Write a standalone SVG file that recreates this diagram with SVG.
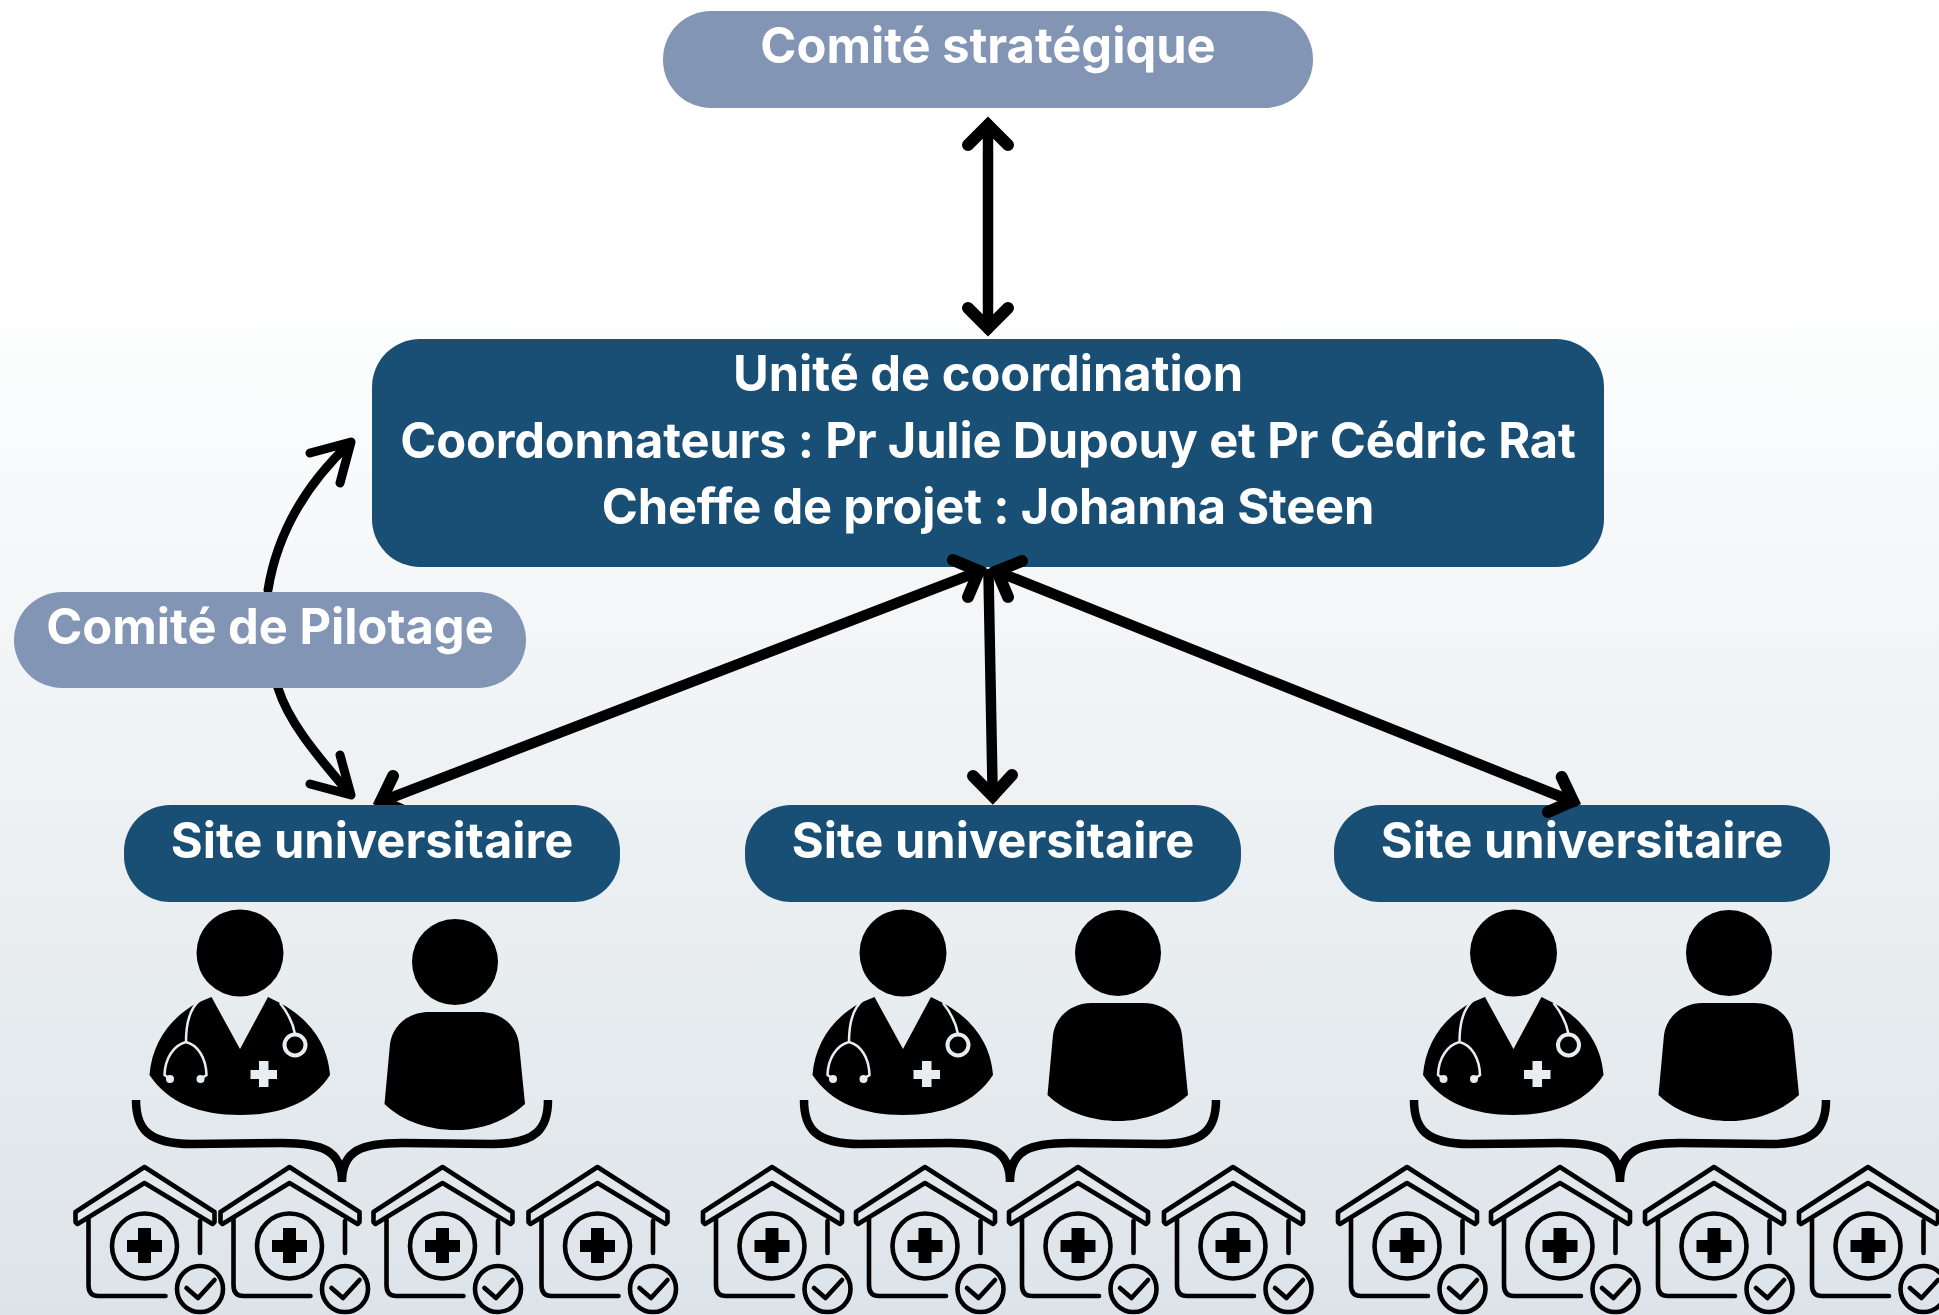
<svg xmlns="http://www.w3.org/2000/svg" width="1939" height="1315" viewBox="0 0 1939 1315">
<style>
text{font-family:"Inter","Liberation Sans",sans-serif;font-weight:700;fill:#fff;text-anchor:middle;font-feature-settings:"calt" 0}
.t{font-size:48.800px}
.n{letter-spacing:-0.17px}
.dark{fill:#194f75}.pale{fill:#8395b5}
.c{fill:none;stroke:#000;stroke-width:10.500;stroke-linecap:round}
.w{fill:none;stroke:#000;stroke-width:12;stroke-linecap:round;stroke-linejoin:miter;stroke-miterlimit:8}
.k{fill:none;stroke:#000;stroke-width:9;stroke-linecap:round;stroke-linejoin:round}
.h{fill:none;stroke:#000;stroke-width:4.600;stroke-linecap:round;stroke-linejoin:round}
.b{fill:none;stroke:#000;stroke-width:8.500}
</style>
<defs>
<linearGradient id="bg" x1="0" y1="0" x2="0" y2="1315" gradientUnits="userSpaceOnUse">
<stop offset="0.2" stop-color="#fff"/><stop offset="1" stop-color="#dde4e9"/>
</linearGradient>
<g id="house">
<path class="h" d="M0,2L-69,47V57L-67,59L0,18L68,59L70,57V47Z"/>
<path class="h" d="M-56,54V120Q-56,131 -46,131H21M55.500,56V88"/>
<circle class="h" cx="0" cy="81" r="32.500"/>
<path d="M-6.500,63H6.500V75H17.500V87H6.500V98H-6.500V87H-17.500V75H-6.500Z"/>
<circle class="h" cx="55.500" cy="124" r="23"/>
<path class="h" d="M42,123L53.500,133L70,115"/>
</g>
<g id="doctor">
<circle cx="0" cy="0" r="43.500"/>
<path d="M-90.500,122C-88,90 -70,65 -43,50L-28.500,44L0,96L28,44L40,50C68,65 88,90 90,122C72,150 40,162 0,162C-40,162 -72,150 -90.500,122Z"/>
<path d="M-40,47C-50,55 -54,72 -54,89C-66,92 -75,105 -75.500,122L-70,126M-54,89C-42,92 -34,105 -33.500,122L-39.500,126M40,50C48,60 53,70 55,81" fill="none" stroke="#e8edf1" stroke-width="2.500"/>
<circle cx="-70" cy="126" r="4" fill="#e8edf1"/><circle cx="-39.500" cy="126" r="4" fill="#e8edf1"/>
<circle cx="55" cy="92" r="10.500" fill="none" stroke="#e8edf1" stroke-width="4"/>
<path d="M19,108H28.500V117H37V126H28.500V134H19V126H10.500V117H19Z" fill="#e8edf1"/>
</g>
<g id="person">
<circle cx="0" cy="0" r="43"/>
<path d="M-26,50H25C48,50 62,65 64,82L70,142C50,160 25,168 0,168C-25,168 -52,160 -70.500,142L-65,82C-63,65 -48,50 -26,50Z"/>
</g>
<path id="brace" class="b" d="M-206,1100C-206,1128 -195,1144 -150,1144L-60,1143C-20,1143 0,1150 0,1182C0,1150 20,1143 60,1143L150,1144C195,1144 206,1128 206,1100"/>
</defs>
<rect id="background" width="1939" height="1315" fill="url(#bg)"/>
<g id="unite-coordination"><rect class="dark" x="372" y="339" width="1232" height="228" rx="48"/>
<text class="t" x="988" y="391">Unité de coordination</text><text class="t n" x="988" y="458">Coordonnateurs : Pr Julie Dupouy et Pr Cédric Rat</text><text class="t n" x="988" y="524">Cheffe de projet : Johanna Steen</text></g>
<g id="site-3"><rect class="dark" x="1334" y="805" width="496" height="97" rx="46"/><text class="t" x="1582" y="858">Site universitaire</text>
<use href="#doctor" x="1513.500" y="953"/><use href="#person" x="1729" y="953"/><use href="#brace" x="1620"/>
<use href="#house" x="1407" y="1165"/><use href="#house" x="1560" y="1165"/><use href="#house" x="1714" y="1165"/><use href="#house" x="1868" y="1165"/></g>
<g id="connectors">
<path class="c" d="M988,124V329"/><path class="w" d="M968,145L988,125L1008,145M968,308L988,328L1008,308"/>
<path class="c" d="M980,571L380,802"/><path class="w" d="M953,560L979,571L968,597M393,776L381,801L408,813"/>
<path class="c" d="M996,571L1574,802"/><path class="w" d="M1022,561L997,571L1008,597M1561.700,777L1573,801L1548,812"/>
<path class="c" d="M988.500,574L992.700,797"/><path class="w" d="M973,776L992.700,796L1012,775"/>
<path class="k" d="M268,590C276,540 300,490 350,443M310,453L351,442L340,483"/>
<path class="k" d="M278,688C288,720 312,750 350,794M310,784L351,795L340,755"/>
</g>
<g id="comite-strategique"><rect class="pale" x="663" y="11" width="650" height="97" rx="48"/><text class="t" x="988" y="63">Comité stratégique</text></g>
<g id="comite-pilotage"><rect class="pale" x="14" y="592" width="512" height="96" rx="48"/><text class="t" x="270" y="644">Comité de Pilotage</text></g>
<g id="site-1"><rect class="dark" x="124" y="805" width="496" height="97" rx="46"/><text class="t" x="372" y="858">Site universitaire</text>
<use href="#doctor" x="240" y="953"/><use href="#person" x="455" y="962"/><use href="#brace" x="342"/>
<use href="#house" x="144.500" y="1165"/><use href="#house" x="289.500" y="1165"/><use href="#house" x="442.500" y="1165"/><use href="#house" x="597.500" y="1165"/></g>
<g id="site-2"><rect class="dark" x="745" y="805" width="496" height="97" rx="46"/><text class="t" x="993" y="858">Site universitaire</text>
<use href="#doctor" x="903" y="953"/><use href="#person" x="1118" y="953"/><use href="#brace" x="1010"/>
<use href="#house" x="772" y="1165"/><use href="#house" x="925" y="1165"/><use href="#house" x="1078" y="1165"/><use href="#house" x="1233" y="1165"/></g>
</svg>
